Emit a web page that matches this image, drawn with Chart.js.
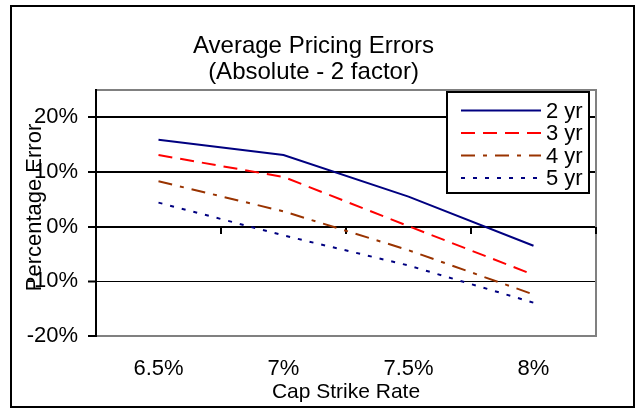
<!DOCTYPE html>
<html>
<head>
<meta charset="utf-8">
<script src="https://cdn.jsdelivr.net/npm/chart.js@4/dist/chart.umd.min.js"></script>
<style>
  html, body { margin: 0; padding: 0; background: #fff; }
  #wrap { width: 639px; height: 411px; }
</style>
</head>
<body>
<div id="wrap"><canvas id="c" width="639" height="411"></canvas></div>
<script>
// ---- data ----
const categories = ['6.5%', '7%', '7.5%', '8%'];
const err2yr = [15.9, 13.1, 5.5, -3.5];
const err3yr = [13.1, 9.1, 0.1, -8.8];
const err4yr = [8.3, 2.8, -4.3, -12.4];
const err5yr = [4.4, -1.6, -7.1, -13.9];
const seriesNames = ['2 yr', '3 yr', '4 yr', '5 yr'];
const yTickValues = [-20, -10, 0, 10, 20];
const yMin = -20, yMax = 25;
const titleLines = ['Average Pricing Errors', '(Absolute - 2 factor)'];
const xTitle = 'Cap Strike Rate';
const yTitle = 'Percentage Error';

const FONT = "'Liberation Sans', Arial, sans-serif";
const GRAY = '#808080';

const styles = [
  { color: '#000080', dash: [] },
  { color: '#FF0000', dash: [14, 8] },
  { color: '#993300', dash: [14, 8, 4, 8] },
  { color: '#000080', dash: [4, 8] }
];
const seriesData = [err2yr, err3yr, err4yr, err5yr];

const datasets = seriesData.map((d, i) => ({
  label: seriesNames[i],
  data: d,
  borderColor: styles[i].color,
  backgroundColor: styles[i].color,
  borderDash: styles[i].dash,
  borderWidth: 2,
  borderCapStyle: 'butt',
  pointRadius: 0,
  pointHoverRadius: 0,
  tension: 0,
  fill: false
}));

const decorPlugin = {
  id: 'decor',
  afterLayout(chart) {
    const t = chart.titleBlock;
    if (t) { t.left += 5.5; t.right += 5.5; }
  },
  beforeDatasetsDraw(chart) {
    const { ctx, chartArea: a, scales: { x, y } } = chart;
    ctx.save();
    // right border of plot area
    ctx.strokeStyle = GRAY;
    ctx.lineWidth = 2;
    ctx.beginPath();
    ctx.moveTo(a.right, a.top - 1);
    ctx.lineTo(a.right, a.bottom + 1);
    ctx.stroke();
    // category tick marks on the zero line
    const y0 = Math.round(y.getPixelForValue(0));
    ctx.strokeStyle = '#000';
    ctx.lineWidth = 2;
    for (let i = 1; i <= categories.length; i++) {
      const xb = i < categories.length
        ? (x.getPixelForValue(i - 1) + x.getPixelForValue(i)) / 2
        : a.right;
      ctx.beginPath();
      ctx.moveTo(Math.round(xb), y0);
      ctx.lineTo(Math.round(xb), y0 + 7);
      ctx.stroke();
    }
    ctx.restore();
  },
  afterDraw(chart) {
    const { ctx } = chart;
    ctx.save();
    // legend
    const lx = 447, ly = 92, lw = 142, lh = 101;
    ctx.fillStyle = '#fff';
    ctx.fillRect(lx, ly, lw, lh);
    ctx.strokeStyle = '#000';
    ctx.lineWidth = 2;
    ctx.strokeRect(lx, ly, lw, lh);
    chart.data.datasets.forEach((ds, i) => {
      const yy = 110.5 + i * 22.5;
      ctx.strokeStyle = ds.borderColor;
      ctx.lineWidth = ds.borderWidth;
      ctx.setLineDash(ds.borderDash);
      ctx.beginPath();
      ctx.moveTo(461, yy);
      ctx.lineTo(541, yy);
      ctx.stroke();
      ctx.setLineDash([]);
      ctx.fillStyle = '#000';
      ctx.font = '22px ' + FONT;
      ctx.textBaseline = 'middle';
      ctx.textAlign = 'left';
      ctx.fillText(ds.label, 546, yy + 1);
    });
    // y axis title (overlaps tick labels as in the original)
    ctx.translate(35, 207.5);
    ctx.rotate(-Math.PI / 2);
    ctx.fillStyle = '#000';
    ctx.font = '22px ' + FONT;
    ctx.textAlign = 'center';
    ctx.textBaseline = 'middle';
    ctx.fillText(yTitle, 0, 0);
    ctx.setTransform(1, 0, 0, 1, 0, 0);
    // outer border
    ctx.strokeStyle = '#000';
    ctx.lineWidth = 2;
    ctx.strokeRect(11, 6, 623, 401);
    ctx.restore();
  }
};

new Chart(document.getElementById('c'), {
  type: 'line',
  data: { labels: categories, datasets },
  plugins: [decorPlugin],
  options: {
    responsive: false,
    animation: false,
    events: [],
    layout: { padding: { left: 20, right: 43, top: 6, bottom: 0 } },
    plugins: {
      legend: { display: false },
      tooltip: { enabled: false },
      title: {
        display: true,
        text: titleLines,
        color: '#000',
        font: { family: FONT, size: 24, weight: 'normal', lineHeight: '26px' },
        padding: { top: 27, bottom: 5 }
      }
    },
    scales: {
      x: {
        type: 'category',
        offset: true,
        grid: { display: false, drawTicks: false },
        border: { display: true, color: GRAY, width: 2 },
        ticks: { color: '#000', font: { family: FONT, size: 22, lineHeight: '22px' }, padding: 22, maxRotation: 0, autoSkip: false },
        title: { display: true, text: xTitle, color: '#000', font: { family: FONT, size: 21, lineHeight: '21px' }, padding: { top: 0, bottom: 8 } },
        afterFit(scale) { scale.height = 75; }
      },
      y: {
        type: 'linear',
        min: yMin,
        max: yMax,
        afterBuildTicks(scale) {
          scale.ticks = yTickValues.concat([yMax]).map(v => ({ value: v }));
        },
        afterFit(scale) { scale.width = 76; },
        grid: {
          drawTicks: true,
          tickLength: 8,
          color: (c) => (c.tick && (c.tick.value === yMax || c.tick.value === yMin)) ? GRAY : '#000',
          tickColor: (c) => (c.tick && c.tick.value === yMax) ? 'rgba(0,0,0,0)' : '#000',
          lineWidth: (c) => (c.tick && c.tick.value === -10) ? 1 : 2,
          tickWidth: 2
        },
        border: { display: true, color: '#000', width: 2 },
        ticks: {
          color: '#000',
          padding: 10,
          font: { family: FONT, size: 22, lineHeight: '22px' },
          callback: (v) => v === yMax ? '' : v + '%'
        }
      }
    }
  }
});
</script>
</body>
</html>
